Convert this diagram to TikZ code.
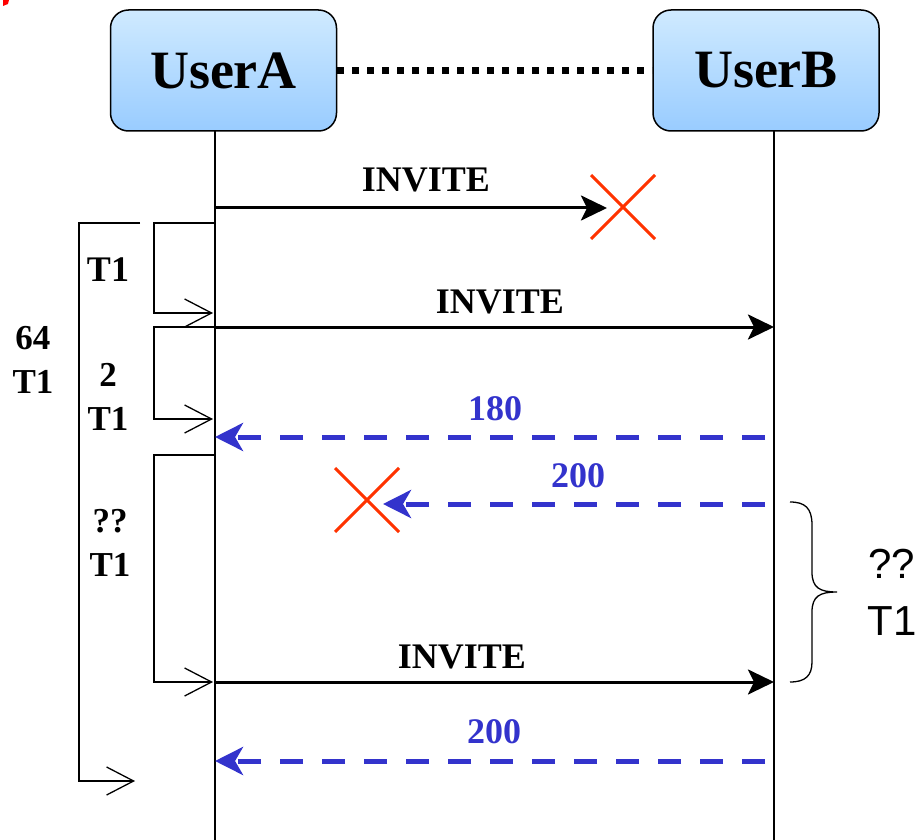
\documentclass[tikz,border=0pt]{standalone}
\usepackage{fontspec}
\setmainfont{Liberation Serif}
\newfontfamily\arialfont{Liberation Sans}
\usetikzlibrary{arrows.meta}

\definecolor{msgblue}{RGB}{51,51,204}
\definecolor{crossred}{RGB}{255,51,0}
\definecolor{boxtop}{RGB}{207,234,255}
\definecolor{boxbot}{RGB}{153,204,255}

\begin{document}
\begin{tikzpicture}[
    x=1pt, y=-1pt,
    every node/.style={font=\bfseries},
    >=Stealth,
    user/.style={draw=black, line width=1.5pt, rounded corners=18pt,
        top color=boxtop, bottom color=boxbot,
        minimum width=226pt, minimum height=121pt, inner sep=0pt,
        font=\fontsize{54}{60}\selectfont\bfseries},
    lifeline/.style={line width=1.5pt},
    link/.style={line width=6.5pt, dash pattern=on 7pt off 8pt},
    msg/.style={line width=3pt, -{Stealth[length=26pt, width=25pt, inset=6pt]}},
    reply/.style={line width=5pt, msgblue, dash pattern=on 23pt off 19pt,
        -{Stealth[length=28pt, width=28pt, inset=8pt]}},
    timer/.style={line width=1.3pt, -{Straight Barb[length=27pt, width=28pt]}},
    lbl/.style={font=\fontsize{36}{40}\selectfont\bfseries, anchor=base, inner sep=0pt},
    tlbl/.style={font=\fontsize{35}{44}\selectfont\bfseries, align=center, inner sep=0pt},
    lost/.style={crossred, line width=3pt},
]
\useasboundingbox (0,0) rectangle (922,840);

% === Corner mark ===
\fill[red] (3,0) -- (9,0) -- (8,4) -- (3,6) -- cycle;

% === Users ===
\node[user] (userA) at (223.5,70.5) {UserA};
\node[user] (userB) at (766,70.5) {UserB};
\draw[link] (userA) -- (userB);

% === Lifelines ===
\coordinate (topA) at (215,131);
\coordinate (botA) at (215,840);
\coordinate (topB) at (774,131);
\coordinate (botB) at (774,840);
\draw[lifeline] (topA) -- (botA);
\draw[lifeline] (topB) -- (botB);

% === First INVITE (lost) ===
\coordinate (inv1s) at (215,208);
\coordinate (inv1e) at (607,208);
\coordinate (lost1) at (623,207);
\draw[msg] (inv1s) -- (inv1e);
\node[lbl] (inv1) at (426,192) {INVITE};
\draw[lost, shift={(lost1)}] (-32,-32) -- (32,32) (-32,32) -- (32,-32);

% === Second INVITE ===
\coordinate (inv2s) at (215,327);
\coordinate (inv2e) at (774,327);
\draw[msg] (inv2s) -- (inv2e);
\node[lbl] (inv2) at (500,313) {INVITE};

% === 180 ===
\coordinate (r180s) at (765,437);
\coordinate (r180e) at (215,437);
\draw[reply] (r180s) -- (r180e);
\node[lbl, msgblue] (l180) at (495,420) {180};

% === 200 (lost) ===
\coordinate (r200s) at (765,504);
\coordinate (r200e) at (383,504);
\coordinate (lost2) at (367,500);
\draw[reply] (r200s) -- (r200e);
\node[lbl, msgblue] (l200a) at (578,487) {200};
\draw[lost, shift={(lost2)}] (-32,-32) -- (32,32) (-32,32) -- (32,-32);

% === Third INVITE ===
\coordinate (inv3s) at (215,682);
\coordinate (inv3e) at (774,682);
\draw[msg] (inv3s) -- (inv3e);
\node[lbl] (inv3) at (462,668) {INVITE};

% === 200 ===
\coordinate (r200bs) at (765,761);
\coordinate (r200be) at (215,761);
\draw[reply] (r200bs) -- (r200be);
\node[lbl, msgblue] (l200b) at (494,743) {200};

% === Timers ===
\coordinate (t1s) at (215,223);
\coordinate (t1e) at (213,313);
\coordinate (t2s) at (215,327);
\coordinate (t2e) at (213,419);
\coordinate (t3s) at (215,455);
\coordinate (t3e) at (213,682);
\coordinate (t4s) at (140,223);
\coordinate (t4e) at (135,781);
\draw[timer] (t1s) -- ++(-61,0) |- (t1e);
\draw[timer] (t2s) -- ++(-61,0) |- (t2e);
\draw[timer] (t3s) -- ++(-61,0) |- (t3e);
\draw[timer] (t4s) -- ++(-61,0) |- (t4e);
\node[lbl] (tm1) at (108,281) {T1};
\node[tlbl] (tm2) at (108,397) {2\\T1};
\node[tlbl] (tm3) at (110,543) {??\\T1};
\node[tlbl] (tm4) at (33,360) {64\\T1};

% === Retransmit brace ===
\draw[line width=1.3pt] (790,502) .. controls (805,502) and (812,508) .. (812,525)
    -- (812,572) .. controls (812,588) and (820,592) .. (837,592)
    .. controls (820,592) and (812,596) .. (812,612)
    -- (812,662) .. controls (812,676) and (805,682) .. (790,682);
\node[font=\fontsize{42}{57}\selectfont\arialfont, align=center, inner sep=0pt] (wait) at (892,592) {??\\T1};

\end{tikzpicture}
\end{document}
